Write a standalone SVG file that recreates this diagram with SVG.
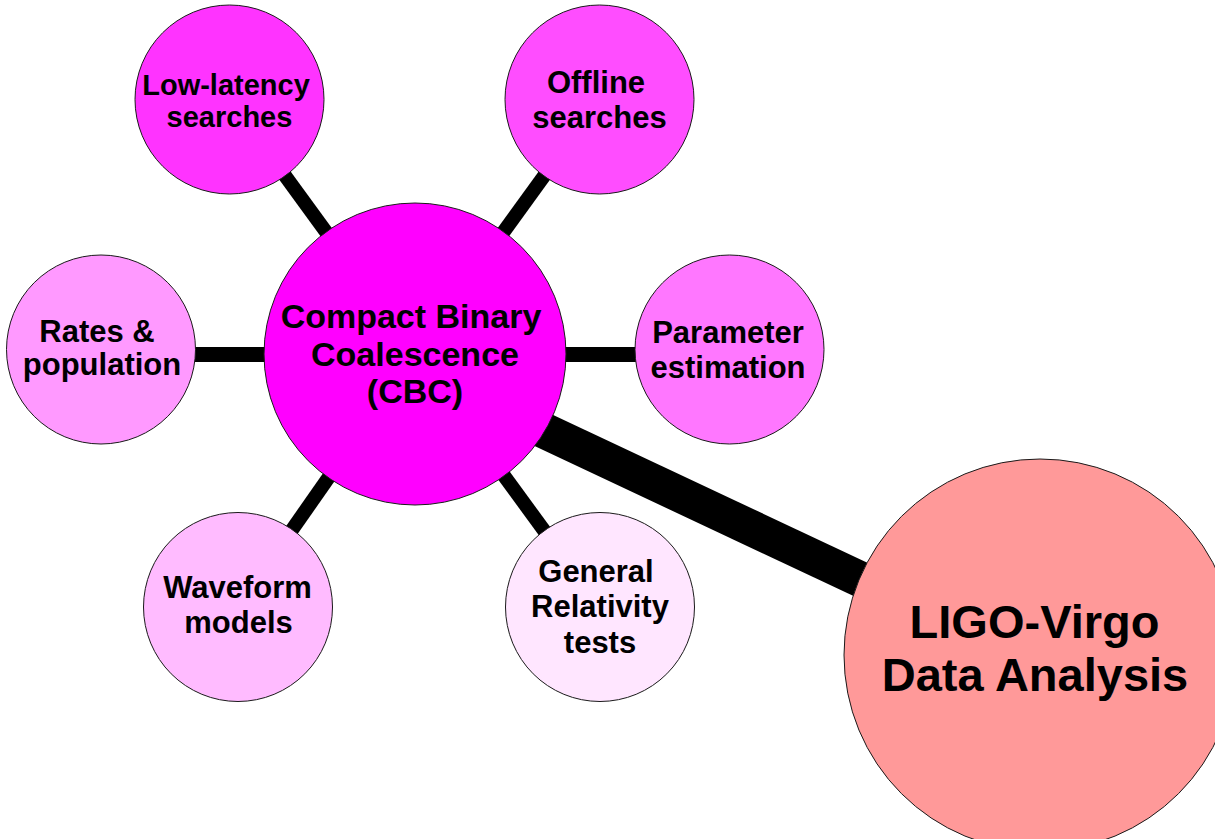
<svg xmlns="http://www.w3.org/2000/svg" width="1215" height="839" viewBox="0 0 1215 839">
<style>
.n{stroke:#1a1a1a;stroke-width:1}
.c{stroke:#000;fill:none}
.t{font-family:"Liberation Sans",Arial,sans-serif;font-weight:bold;fill:#000;text-anchor:middle}
</style>
<rect width="1215" height="839" fill="#fff"/>
<g id="connectors">
<line class="c" x1="415" y1="354" x2="229.5" y2="99.5" stroke-width="14"/>
<line class="c" x1="415" y1="354" x2="599.5" y2="99.5" stroke-width="14"/>
<line class="c" x1="180" y1="354.5" x2="650" y2="354.5" stroke-width="15"/>
<line class="c" x1="415" y1="354" x2="238" y2="607" stroke-width="14"/>
<line class="c" x1="415" y1="354" x2="600" y2="607" stroke-width="14"/>
<line class="c" x1="415" y1="370" x2="1030" y2="659" stroke-width="36"/>
</g>
<g id="low-latency">
<circle class="n" cx="229.5" cy="99.5" r="94.5" fill="#ff33ff"/>
<text class="t" font-size="29"><tspan x="226" y="95">Low-latency</tspan><tspan x="229.5" y="127">searches</tspan></text>
</g>
<g id="offline">
<circle class="n" cx="599.5" cy="99.5" r="94.5" fill="#ff4dff"/>
<text class="t" font-size="31"><tspan x="596" y="93">Offline</tspan><tspan x="599.5" y="128">searches</tspan></text>
</g>
<g id="rates">
<circle class="n" cx="101" cy="349.5" r="94.5" fill="#ff99ff"/>
<text class="t" font-size="31"><tspan x="97" y="342">Rates &amp;</tspan><tspan x="102" y="375">population</tspan></text>
</g>
<g id="parameter">
<circle class="n" cx="729.5" cy="349.5" r="94.5" fill="#ff77ff"/>
<text class="t" font-size="31"><tspan x="728" y="343">Parameter</tspan><tspan x="728" y="378">estimation</tspan></text>
</g>
<g id="waveform">
<circle class="n" cx="238" cy="607" r="94.5" fill="#ffbbff"/>
<text class="t" font-size="31"><tspan x="237.5" y="598">Waveform</tspan><tspan x="238.5" y="633">models</tspan></text>
</g>
<g id="gr-tests">
<circle class="n" cx="600" cy="607" r="94.5" fill="#ffe6ff"/>
<text class="t" font-size="31"><tspan x="596" y="582">General</tspan><tspan x="600" y="617">Relativity</tspan><tspan x="600" y="653">tests</tspan></text>
</g>
<g id="cbc">
<circle class="n" cx="415" cy="354" r="151" fill="#ff00ff"/>
<text class="t" font-size="34"><tspan x="411" y="328">Compact Binary</tspan><tspan x="415" y="366">Coalescence</tspan><tspan x="415" y="403">(CBC)</tspan></text>
</g>
<g id="ligo-virgo">
<circle class="n" cx="1040" cy="655" r="196" fill="#ff9999"/>
<text class="t" font-size="47"><tspan x="1034.5" y="638">LIGO-Virgo</tspan><tspan x="1035" y="691">Data Analysis</tspan></text>
</g>
</svg>
